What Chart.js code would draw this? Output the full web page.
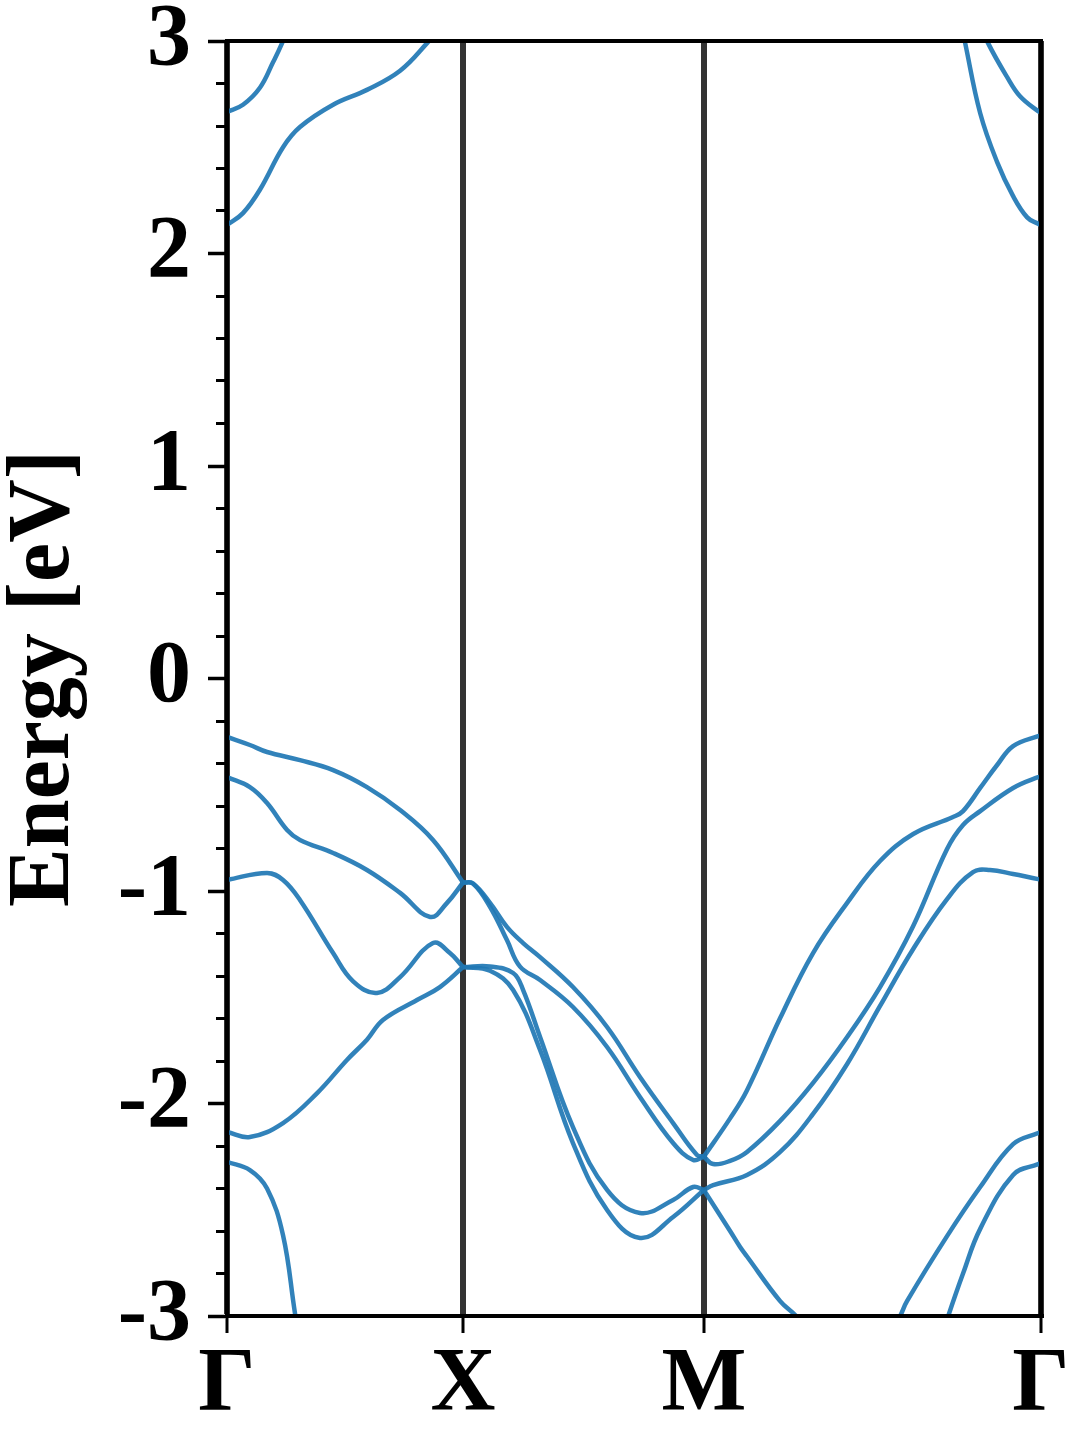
<!DOCTYPE html>
<html>
<head>
<meta charset="utf-8">
<title>Band structure</title>
<script src="https://cdn.jsdelivr.net/npm/chart.js@4.4.1/dist/chart.umd.min.js"></script>
<style>
  html, body { margin: 0; padding: 0; background: #fff; }
  #wrap { width: 1080px; height: 1440px; position: relative; }
</style>
</head>
<body>
<div id="wrap"><canvas id="bands"></canvas></div>
<script>
// k-path Γ - X - M - Γ, in path-length units
const kTicks = [0, 0.99, 2.0, 3.414];
const kLabels = ['Γ', 'X', 'M', 'Γ'];
const eMin = -3;
const eMax = 3;

// bands, [k, E(eV)] per path segment
// Γ -> X
const gxCond1 = [[0, 2.134], [0.067, 2.19], [0.138, 2.30], [0.235, 2.50], [0.306, 2.595], [0.445, 2.70], [0.587, 2.77], [0.726, 2.86], [0.839, 2.99], [0.88, 3.05]];
const gxCond2 = [[0, 2.666], [0.067, 2.70], [0.138, 2.78], [0.193, 2.90], [0.231, 2.99], [0.25, 3.05]];
const gxVal1 = [[0, -0.275], [0.096, -0.313], [0.168, -0.346], [0.306, -0.384], [0.445, -0.431], [0.587, -0.511], [0.726, -0.619], [0.864, -0.76], [0.99, -0.96]];
const gxVal2 = [[0, -0.464], [0.096, -0.511], [0.168, -0.586], [0.252, -0.713], [0.306, -0.76], [0.445, -0.821], [0.587, -0.901], [0.726, -1.009], [0.852, -1.122], [0.923, -1.056], [0.99, -0.96]];
const gxVal3 = [[0, -0.948], [0.168, -0.915], [0.235, -0.948], [0.306, -1.042], [0.445, -1.292], [0.529, -1.425], [0.629, -1.48], [0.726, -1.405], [0.864, -1.245], [0.935, -1.292], [0.99, -1.358]];
const gxVal4 = [[0, -2.134], [0.096, -2.158], [0.235, -2.092], [0.378, -1.951], [0.503, -1.795], [0.587, -1.70], [0.654, -1.607], [0.797, -1.513], [0.893, -1.452], [0.99, -1.358]];
const gxVal5 = [[0, -2.275], [0.096, -2.313], [0.168, -2.40], [0.235, -2.62], [0.285, -2.986], [0.31, -3.15]];

// X -> M
const xmVal1 = [[0.99, -0.96], [1.032, -0.965], [1.103, -1.056], [1.174, -1.169], [1.242, -1.245], [1.313, -1.311], [1.451, -1.452], [1.594, -1.64], [1.732, -1.875], [1.871, -2.092], [1.971, -2.242], [2.0, -2.25]];
const xmVal2 = [[0.99, -0.96], [1.032, -0.965], [1.103, -1.074], [1.174, -1.231], [1.229, -1.356], [1.313, -1.419], [1.451, -1.546], [1.594, -1.734], [1.732, -1.969], [1.871, -2.186], [1.955, -2.266], [2.0, -2.25]];
const xmVal3 = [[0.99, -1.358], [1.103, -1.355], [1.2, -1.386], [1.242, -1.466], [1.313, -1.687], [1.451, -2.111], [1.594, -2.407], [1.732, -2.515], [1.871, -2.454], [1.955, -2.393], [2.0, -2.407]];
const xmVal4 = [[0.99, -1.358], [1.103, -1.375], [1.2, -1.466], [1.313, -1.748], [1.451, -2.186], [1.594, -2.501], [1.732, -2.633], [1.871, -2.534], [2.0, -2.407]];

// M -> Γ
const mgVal1 = [[2.0, -2.25], [2.11, -2.07], [2.18, -1.94], [2.32, -1.598], [2.458, -1.292], [2.601, -1.056], [2.739, -0.859], [2.878, -0.732], [3.045, -0.652], [3.087, -0.624], [3.159, -0.515], [3.23, -0.407], [3.297, -0.318], [3.402, -0.271], [3.414, -0.27]];
const mgVal2 = [[2.0, -2.25], [2.039, -2.285], [2.11, -2.27], [2.181, -2.228], [2.32, -2.082], [2.458, -1.903], [2.601, -1.687], [2.739, -1.452], [2.878, -1.165], [3.02, -0.802], [3.087, -0.689], [3.159, -0.624], [3.297, -0.515], [3.402, -0.464], [3.414, -0.464]];
const mgVal3 = [[2.0, -2.407], [2.039, -2.384], [2.181, -2.336], [2.32, -2.228], [2.458, -2.049], [2.601, -1.814], [2.739, -1.541], [2.878, -1.273], [3.02, -1.038], [3.129, -0.911], [3.2, -0.901], [3.297, -0.92], [3.402, -0.944], [3.414, -0.945]];
const mgVal4 = [[2.0, -2.407], [2.11, -2.60], [2.152, -2.675], [2.181, -2.72], [2.32, -2.93], [2.387, -3.0], [2.42, -3.05]];
const mgVal5 = [[2.79, -3.06], [2.823, -3.0], [2.852, -2.93], [3.02, -2.624], [3.159, -2.393], [3.297, -2.191], [3.402, -2.139], [3.414, -2.134]];
const mgVal6 = [[3.01, -3.06], [3.025, -3.0], [3.087, -2.80], [3.159, -2.59], [3.297, -2.336], [3.402, -2.285], [3.414, -2.28]];
const mgCond1 = [[3.08, 3.08], [3.096, 2.99], [3.159, 2.66], [3.23, 2.43], [3.297, 2.27], [3.356, 2.17], [3.402, 2.14], [3.414, 2.134]];
const mgCond2 = [[3.17, 3.06], [3.192, 2.99], [3.272, 2.83], [3.326, 2.74], [3.402, 2.67], [3.414, 2.666]];

const segments = [
  gxCond1, gxCond2, gxVal1, gxVal2, gxVal3, gxVal4, gxVal5,
  xmVal1, xmVal2, xmVal3, xmVal4,
  mgVal1, mgVal2, mgVal3, mgVal4, mgVal5, mgVal6, mgCond1, mgCond2
];

const serif = '"Liberation Serif", "Times New Roman", Times, serif';
const bandColor = 'rgba(31, 119, 180, 0.92)';

// one line dataset per band segment
const datasets = segments.map(seg => ({
  data: seg.map(p => ({ x: p[0], y: p[1] })),
  borderColor: bandColor,
  borderWidth: 4.5,
  pointRadius: 0,
  fill: false,
  tension: 0.4,
  xAxisID: 'x',
  yAxisID: 'y'
}));

// plain frame axis (top / right spine only)
function spine(position, size) {
  return {
    type: 'linear',
    position: position,
    min: 0,
    max: 1,
    afterFit: s => { if (size === 'h') s.height = 0; else s.width = 0; },
    grid: { display: true, drawOnChartArea: false, drawTicks: false },
    ticks: { display: false },
    border: { display: true, color: '#000', width: 4, z: 1 }
  };
}

new Chart(document.getElementById('bands'), {
  type: 'line',
  data: { datasets },
  options: {
    responsive: true,
    maintainAspectRatio: false,
    animation: false,
    layout: { padding: { top: 41, right: 39, bottom: 0, left: 0 } },
    plugins: { legend: { display: false }, tooltip: { enabled: false } },
    scales: {
      x: {
        type: 'linear',
        position: 'bottom',
        min: kTicks[0],
        max: kTicks[kTicks.length - 1],
        afterBuildTicks: s => { s.ticks = kTicks.map(v => ({ value: v })); },
        afterFit: s => { s.height = 124; s.paddingLeft = 0; s.paddingRight = 0; },
        grid: { color: '#333', lineWidth: 6, tickLength: 17, tickColor: '#000', tickWidth: 3 },
        border: { display: true, color: '#000', width: 4, z: 1 },
        ticks: {
          autoSkip: false,
          maxRotation: 0,
          padding: 9,
          color: '#000',
          font: { family: serif, size: 90, weight: 'bold', lineHeight: 1 },
          callback: (v, i) => kLabels[i]
        }
      },
      xTop: spine('top', 'h'),
      y: {
        type: 'linear',
        position: 'left',
        min: eMin,
        max: eMax,
        weight: 1,
        afterFit: s => { s.width = 227; s.paddingTop = 0; s.paddingBottom = 0; },
        grid: { drawOnChartArea: false, tickLength: 19, tickColor: '#000', tickWidth: 3.5 },
        border: { display: true, color: '#000', width: 4, z: 1 },
        ticks: {
          stepSize: 1,
          padding: 17,
          color: '#000',
          font: { family: serif, size: 88, weight: 'bold', lineHeight: 1 },
          callback: v => v.toString()
        },
        title: {
          display: true,
          text: 'Energy [eV]',
          color: '#000',
          font: { family: serif, size: 88, weight: 'bold', lineHeight: 1 },
          padding: { top: 1, bottom: 0 }
        }
      },
      yMinor: {
        type: 'linear',
        position: 'left',
        min: eMin,
        max: eMax,
        weight: 0,
        afterFit: s => { s.width = 0; },
        grid: { drawOnChartArea: false, tickLength: 11, tickColor: '#000', tickWidth: 3 },
        border: { display: false },
        ticks: { display: false, stepSize: 0.2, autoSkip: false, maxTicksLimit: 100 }
      },
      yRight: spine('right', 'w')
    }
  }
});
</script>
</body>
</html>
